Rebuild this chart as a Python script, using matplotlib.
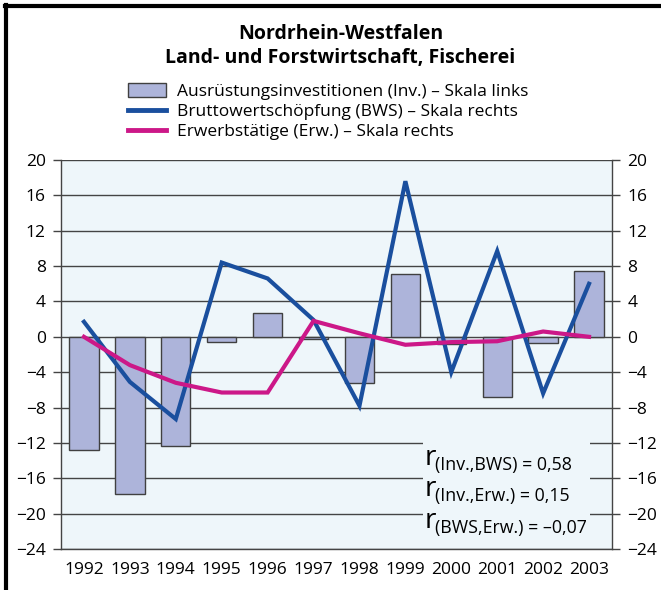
import matplotlib
matplotlib.use("Agg")
import matplotlib.pyplot as plt
from matplotlib.patches import Patch, Rectangle
from matplotlib.lines import Line2D
from matplotlib.transforms import offset_copy
import numpy as np

plt.rcParams['font.family'] = ['Open Sans', 'DejaVu Sans']

years = ['1992', '1993', '1994', '1995', '1996', '1997',
         '1998', '1999', '2000', '2001', '2002', '2003']
# Veränderung gegenüber Vorjahr in %
inv = [-12.8, -17.8, -12.3, -0.6, 2.7, -0.3, -5.2, 7.1, -0.8, -6.8, -0.7, 7.4]
bws = [1.7, -5.1, -9.3, 8.4, 6.6, 1.9, -7.8, 17.6, -4.0, 9.7, -6.4, 6.0]
erw = [0.0, -3.2, -5.2, -6.3, -6.3, 1.8, 0.4, -0.9, -0.6, -0.5, 0.6, 0.0]
corr_labels = ['(Inv.,BWS)', '(Inv.,Erw.)', '(BWS,Erw.)']
corr_values = ['0,58', '0,15', '\u20130,07']

BAR = '#adb4da'
BLUE = '#1a4f9e'
MAGENTA = '#cc1888'
BG = '#eef6fa'
GRID = '#444444'

fig = plt.figure(figsize=(6.61, 5.90), dpi=100)
ax = fig.add_axes([61 / 661, 1 - 549 / 590, 551 / 661, 389 / 590])
ax.set_facecolor(BG)

x = np.arange(len(years))
ax.bar(x, inv, width=0.64, color=BAR, edgecolor='#404040', linewidth=1, zorder=3)
ax.plot(x, bws, color=BLUE, lw=3, zorder=4, solid_joinstyle='miter')
ax.plot(x, erw, color=MAGENTA, lw=3, zorder=4, solid_joinstyle='miter')

ax.set_xlim(-0.5, len(years) - 0.5)
ax.set_ylim(-24, 20)
ax.set_yticks(range(-24, 21, 4))
ax.set_xticks(x)
ax.set_xticklabels(years)
for t in range(-24, 21, 4):
    ax.axhline(t, color=GRID, lw=1, zorder=1)

ax.tick_params(axis='x', length=0, pad=9, labelsize=12.5)
ax.tick_params(axis='y', length=6, width=1, color=GRID, pad=5, labelsize=12.5,
               right=True, labelright=True, direction='out')
for side in ['left', 'right', 'bottom']:
    ax.spines[side].set_color(GRID)
    ax.spines[side].set_linewidth(1)
    ax.spines[side].set_zorder(5)
ax.spines['top'].set_visible(False)

# Korrelationskoeffizienten auf hellem Feld
ax.add_patch(Rectangle((7.38, -23.8), 3.64, 12.2, facecolor=BG, edgecolor='none', zorder=2))
sub_tr = offset_copy(ax.transData, fig=fig, x=7.2, y=-3.4, units='points')
for i, (lab, val) in enumerate(zip(corr_labels, corr_values)):
    y = -14.5 - 3.55 * i
    ax.text(7.43, y, 'r', fontsize=20, va='baseline', ha='left', zorder=6)
    ax.text(7.43, y, f'{lab} = {val}', fontsize=12.8, va='baseline', ha='left',
            zorder=6, transform=sub_tr)

fig.text(0.515, 0.942, 'Nordrhein-Westfalen', ha='center', va='center',
         fontsize=14, fontweight='bold')
fig.text(0.515, 0.901, 'Land- und Forstwirtschaft, Fischerei', ha='center', va='center',
         fontsize=14, fontweight='bold')

handles = [Patch(facecolor=BAR, edgecolor='#404040', linewidth=1),
           Line2D([], [], color=BLUE, lw=3.5),
           Line2D([], [], color=MAGENTA, lw=3.5)]
labels = ['Ausrüstungsinvestitionen (Inv.) \u2013 Skala links',
          'Bruttowertschöpfung (BWS) \u2013 Skala rechts',
          'Erwerbstätige (Erw.) \u2013 Skala rechts']
fig.legend(handles, labels, loc='upper left', bbox_to_anchor=(128 / 661, 1 - 83 / 590),
           frameon=False, fontsize=12.5, handlelength=2.2, handleheight=0.85,
           handletextpad=0.65, labelspacing=0.19, borderaxespad=0, borderpad=0)

# Rahmen oben und links
fig.add_artist(Line2D([5 / 661, 1], [1 - 6 / 590, 1 - 6 / 590], color='black', lw=3,
                      transform=fig.transFigure))
fig.add_artist(Line2D([6 / 661, 6 / 661], [0, 1 - 5 / 590], color='black', lw=3,
                      transform=fig.transFigure))

fig.savefig('out.png', dpi=100)
